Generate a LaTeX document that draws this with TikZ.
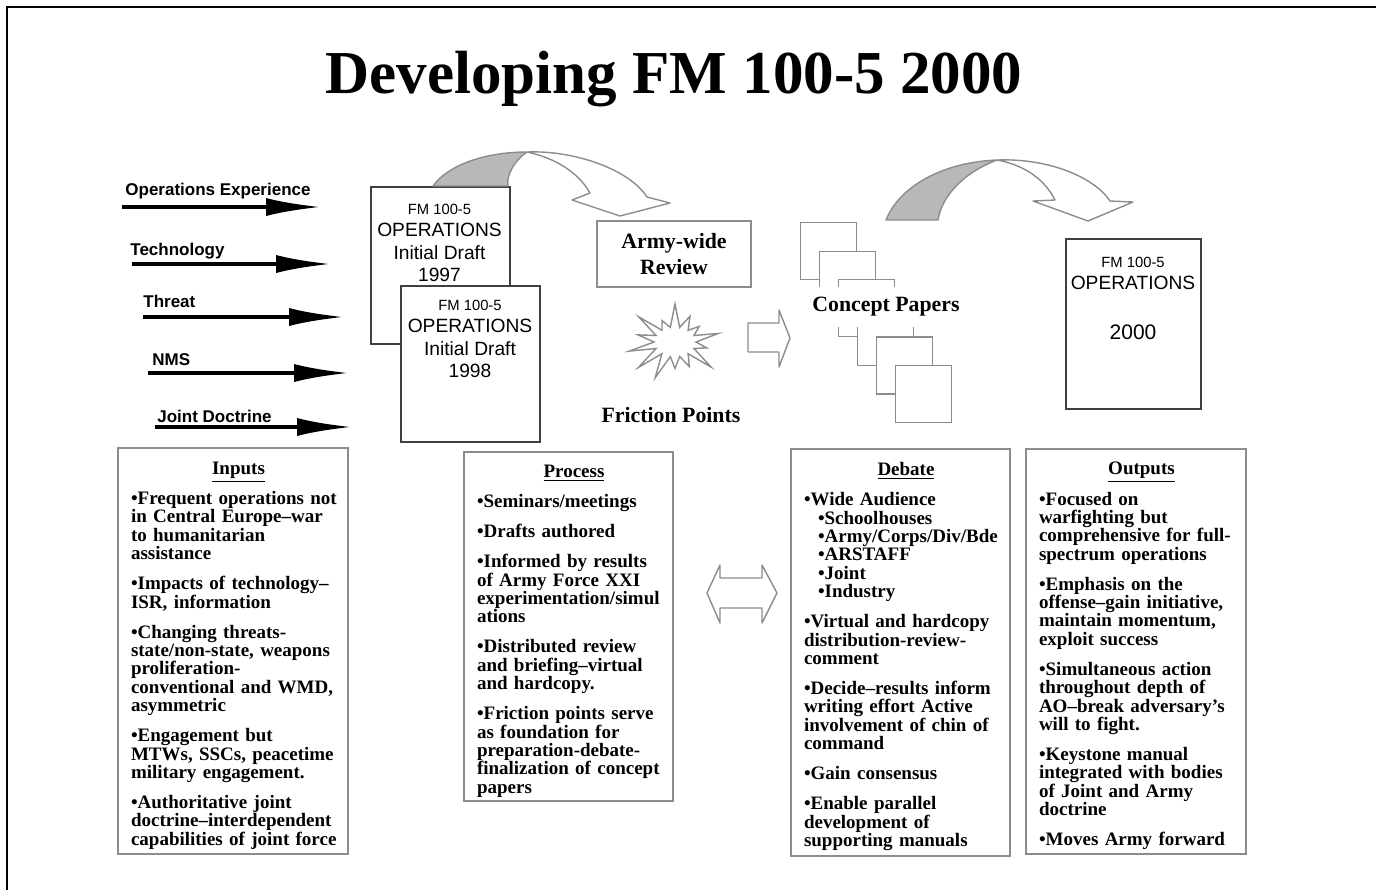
\documentclass[tikz,border=0pt]{standalone}
\usepackage{fontspec}
\setmainfont{Liberation Serif}
\setsansfont{Liberation Sans}
\usetikzlibrary{arrows.meta,shapes.symbols}

\definecolor{boxgray}{gray}{0.55}
\definecolor{drawgray}{gray}{0.25}
\definecolor{shadegray}{gray}{0.72}

\newcommand{\panelhead}[1]{\raggedright\leftskip=6.5pt\rightskip=1pt plus 1fil\relax
	\lineskiplimit=-\maxdimen\rule{0pt}{10.8pt}\hfill\underline{#1}\hfill\null\\[5.9pt]}
\newcommand{\fmsmall}{\fontsize{7.4}{11.2}\selectfont}

\begin{document}
\begin{tikzpicture}
[
	x=0.5pt, y=-0.5pt,
	inarrow/.style = {line width=2.2pt, -{Latex[length=28pt,width=9pt]}},
	inlabel/.style = {font=\sffamily\bfseries\fontsize{8.5}{10}\selectfont, inner sep=0pt, anchor=base west},
	draftbox/.style = {draw=drawgray, line width=1pt, fill=white, anchor=north west, inner sep=0pt},
	drafttext/.style = {font=\sffamily\fontsize{9.6}{11.2}\selectfont, align=center, anchor=north, inner sep=0pt},
	paper/.style = {draw=boxgray, line width=0.6pt, fill=white, anchor=north west, minimum width=28pt, minimum height=28.5pt, inner sep=0pt},
	blockarrow/.style = {draw=boxgray, line width=0.7pt, fill=white, line join=round},
	panel/.style = {draw=boxgray, line width=1pt, anchor=north west, inner sep=0pt, font=\bfseries\fontsize{9.5}{9.17}\selectfont},
	bigserif/.style = {font=\bfseries\fontsize{10.9}{13}\selectfont, align=center},
]
\useasboundingbox (0,0) rectangle (1376,890);
\draw[line width=1.25pt] (7,890) -- (7,7) -- (1376,7);

\node[font=\bfseries\fontsize{30.5}{36}\selectfont, anchor=base, inner sep=0pt] (title) at (674,93) {Developing FM 100-5 2000};

% inputs on the left
\foreach \nm/\lbl/\xl/\yl/\xa/\xb/\ya in {
	ops/Operations Experience/125/195/122/322/207,
	tech/Technology/130/255/132/332/264,
	threat/Threat/143/307/143/345/317,
	nms/NMS/152/365/148/350/373,
	joint/Joint Doctrine/157/422/155/353/427}
{
	\coordinate (\nm-in) at (\xa,\ya);
	\coordinate (\nm-out) at (\xb,\ya);
	\draw[inarrow] (\nm-in) -- (\nm-out);
	\node[inlabel] (\nm-lbl) at (\xl,\yl) {\lbl};
}

\node[draftbox, minimum width=69.5pt, minimum height=78.5pt] (draft97) at (370,186) {};
\node[drafttext] (draft97txt) at (439.5,203.5) {{\fmsmall FM 100-5}\\OPERATIONS\\Initial Draft\\1997};
\node[draftbox, minimum width=69.5pt, minimum height=78pt] (draft98) at (400,285) {};
\node[drafttext] (draft98txt) at (470,299.5) {{\fmsmall FM 100-5}\\OPERATIONS\\Initial Draft\\1998};

\draw[blockarrow, fill=shadegray] (433,186) .. controls (448,165) and (485,152) .. (527,152) .. controls (515,160) and (506,175) .. (508,186) -- cycle;
\draw[blockarrow] (527,152) .. controls (575,150) and (630,170) .. (647,197) -- (670,203) -- (620,216) -- (572,200) -- (590,193) .. controls (578,172) and (555,158) .. (527,152) -- cycle;

\node[draw=boxgray, line width=1pt, minimum width=77pt, minimum height=33pt, bigserif] (review) at (674,254) {Army-wide\\Review};
\node[draw=boxgray, line width=0.7pt, starburst, starburst points=14, starburst point height=13pt, random starburst=40, minimum width=47pt, minimum height=41pt] (burst) at (675,342) {};
\node[bigserif] (frictionlbl) at (671,415) {Friction Points};

\draw[blockarrow] (748,323) -- (779,323) -- (779,310) -- (790,338) -- (779,367) -- (779,352) -- (748,352) -- cycle;

\foreach \i in {0,...,5}
	\node[paper] (paper\i) at (800+19*\i,222+28.6*\i) {};
\node[bigserif, fill=white, minimum width=76pt, minimum height=20pt, inner xsep=1pt] (concept) at (886,307) {Concept Papers};

\draw[blockarrow, fill=shadegray] (886,220) .. controls (900,185) and (945,162) .. (997,160) .. controls (965,172) and (942,195) .. (938,220) -- cycle;
\draw[blockarrow] (997,160) .. controls (1050,158) and (1095,178) .. (1110,201) -- (1133,202) -- (1088,221) -- (1033,201) -- (1055,200) .. controls (1045,180) and (1025,165) .. (997,160) -- cycle;

\node[draftbox, minimum width=67.5pt, minimum height=85pt] (final) at (1065,238) {};
\node[drafttext] (finaltxt) at (1133,256.5) {{\fmsmall FM 100-5}\\OPERATIONS\\[13.75pt]{\fontsize{10.5}{11.2}\selectfont 2000}};

% the four panels
\node[panel, text width=115pt, minimum height=203pt] (inputs) at (117,447) {\panelhead{Inputs}
•Frequent operations not\\
in Central Europe--war\\
to humanitarian\\
assistance\\[5.9pt]
•Impacts of technology--\\
ISR, information\\[5.9pt]
•Changing threats-\\
state/non-state, weapons\\
proliferation-\\
conventional and WMD,\\
asymmetric\\[5.9pt]
•Engagement but\\
MTWs, SSCs, peacetime\\
military engagement.\\[5.9pt]
•Authoritative joint\\
doctrine--interdependent\\
capabilities of joint force\par};

\node[panel, text width=104.5pt, minimum height=174.5pt] (process) at (463,451) {\panelhead{Process}
•Seminars/meetings\\[5.9pt]
•Drafts authored\\[5.9pt]
•Informed by results\\
of Army Force XXI\\
experimentation/simul\\
ations\\[5.9pt]
•Distributed review\\
and briefing--virtual\\
and hardcopy.\\[5.9pt]
•Friction points serve\\
as foundation for\\
preparation-debate-\\
finalization of concept\\
papers\par};

\draw[blockarrow] (707,593) -- (720,565) -- (720,578) -- (762,578) -- (762,565) -- (777,593) -- (762,623) -- (762,608) -- (720,608) -- (720,623) -- cycle;

\node[panel, text width=109.5pt, minimum height=203.5pt] (debate) at (790,448) {\panelhead{Debate}
•Wide Audience\\
\hspace*{7pt}•Schoolhouses\\
\hspace*{7pt}•Army/Corps/Div/Bde\\
\hspace*{7pt}•ARSTAFF\\
\hspace*{7pt}•Joint\\
\hspace*{7pt}•Industry\\[5.9pt]
•Virtual and hardcopy\\
distribution-review-\\
comment\\[5.9pt]
•Decide--results inform\\
writing effort Active\\
involvement of chin of\\
command\\[5.9pt]
•Gain consensus\\[5.9pt]
•Enable parallel\\
development of\\
supporting manuals\par};

\node[panel, text width=110pt, minimum height=202.5pt] (outputs) at (1025,448) {\panelhead{Outputs}
•Focused on\\
warfighting but\\
comprehensive for full-\\
spectrum operations\\[5.9pt]
•Emphasis on the\\
offense--gain initiative,\\
maintain momentum,\\
exploit success\\[5.9pt]
•Simultaneous action\\
throughout depth of\\
AO--break adversary's\\
will to fight.\\[5.9pt]
•Keystone manual\\
integrated with bodies\\
of Joint and Army\\
doctrine\\[5.9pt]
•Moves Army forward\par};
\end{tikzpicture}
\end{document}
